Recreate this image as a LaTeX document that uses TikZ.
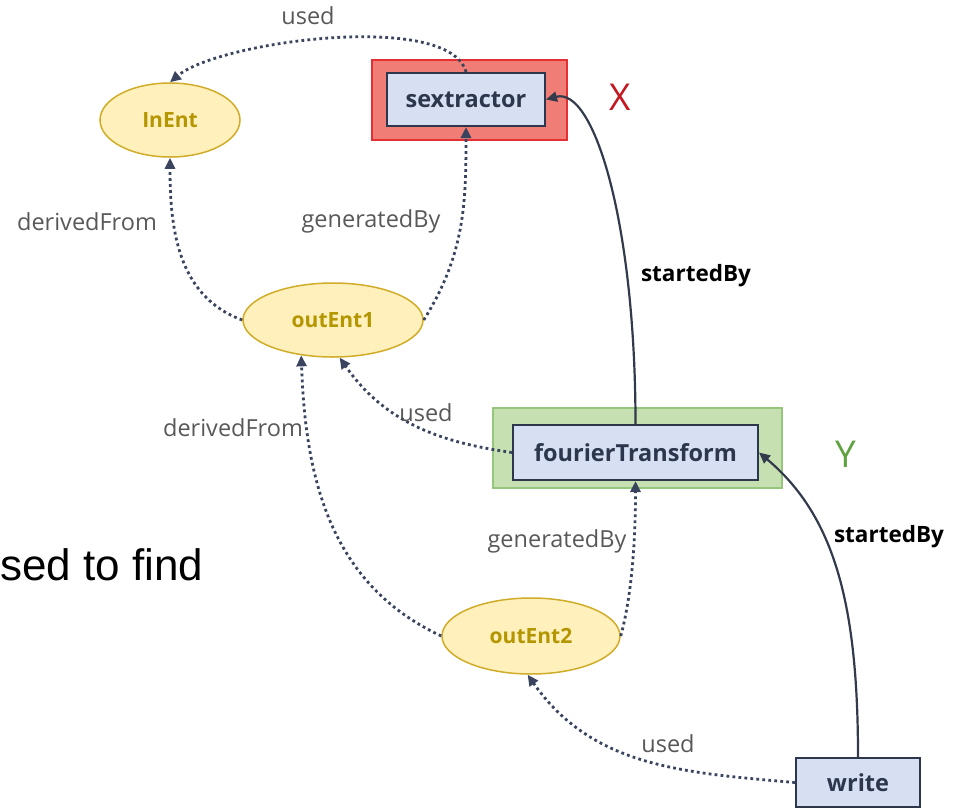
\documentclass[tikz,border=0pt]{standalone}
\usepackage{fontspec}
\setmainfont{Open Sans}
\newfontfamily\slidefont{Liberation Sans}
\usetikzlibrary{shapes.geometric,arrows.meta}

% palette
\definecolor{entfill}{RGB}{255,240,188}
\definecolor{entdraw}{RGB}{208,172,40}
\definecolor{enttext}{RGB}{180,150,0}
\definecolor{actfill}{RGB}{214,224,242}
\definecolor{actdraw}{RGB}{44,54,76}
\definecolor{edgecol}{RGB}{58,68,94}
\definecolor{solidcol}{RGB}{50,58,76}
\definecolor{lblcol}{RGB}{88,88,88}
\definecolor{xfill}{RGB}{240,126,118}
\definecolor{xdraw}{RGB}{228,48,52}
\definecolor{xtext}{RGB}{196,24,32}
\definecolor{yfill}{RGB}{198,224,178}
\definecolor{ydraw}{RGB}{150,198,124}
\definecolor{ytext}{RGB}{96,162,66}

\tikzset{
  ent/.style={ellipse, draw=entdraw, line width=1.5pt, fill=entfill, inner sep=0pt,
    text=enttext, font=\bfseries\fontsize{21}{25}\selectfont},
  act/.style={rectangle, draw=actdraw, line width=2pt, fill=actfill, inner sep=0pt,
    text=actdraw, font=\bfseries\fontsize{23.5}{28}\selectfont},
  grp/.style={rectangle, line width=1.5pt, inner sep=0pt},
  rel/.style={draw=edgecol, line width=2.8pt, dash pattern=on 2.8pt off 3.2pt,
    -{Triangle[length=11pt,width=10pt]}},
  startrel/.style={draw=solidcol, line width=2.2pt,
    -{Triangle[length=11pt,width=10pt]}},
  lbl/.style={text=lblcol, inner sep=0pt, font=\fontsize{23.5}{28}\selectfont},
  boldlbl/.style={text=black, inner sep=0pt, font=\bfseries\fontsize{22.5}{27}\selectfont},
  tag/.style={inner sep=0pt, font=\fontsize{37}{44}\selectfont}
}

\begin{document}
\begin{tikzpicture}[x=1pt,y=1pt]
\useasboundingbox (0,-809) rectangle (961,0);

% group frames
\node[grp, fill=xfill, draw=xdraw, minimum width=195pt, minimum height=80pt] (sxgroup) at (469.5,-100) {};
\node[grp, fill=yfill, draw=ydraw, minimum width=289pt, minimum height=80pt] (ftgroup) at (637.5,-448) {};

% activities
\node[act, minimum width=158pt, minimum height=53pt] (sextractor) at (466,-99.5) {sextractor};
\node[act, minimum width=245pt, minimum height=55pt] (ft) at (635.5,-452.5) {fourierTransform};
\node[act, minimum width=124pt, minimum height=49pt] (write) at (858,-782.5) {write};

% entities
\node[ent, minimum width=140pt, minimum height=74pt] (inEnt) at (170,-120) {InEnt};
\node[ent, minimum width=180pt, minimum height=74pt] (outEnt1) at (333,-320) {outEnt1};
\node[ent, minimum width=178pt, minimum height=76pt] (outEnt2) at (531,-636) {outEnt2};

% group tags
\node[tag, text=xtext] (xtag) at (620,-97) {X};
\node[tag, text=ytext] (ytag) at (846,-454) {Y};

% slide text
\node[anchor=base west, inner sep=0pt, font=\slidefont\fontsize{44}{50}\selectfont] (caption) at (0,-580) {sed to find};

% relations
\draw[rel] (sextractor.north) to[out=105,in=40,looseness=0.55] (inEnt.north);
\draw[rel] (outEnt1.west) to[out=160,in=-90] (inEnt.south);
\draw[rel] (outEnt1.east) to[out=58,in=-90] (sextractor.south);
\draw[startrel] (ft.north) to[out=90,in=15,out distance=200pt,in distance=50pt] (sextractor.east);
\draw[rel] (ft.west) to[out=172,in=-55] (outEnt1.-80);
\draw[rel] (outEnt2.west) to[out=155,in=-88] (outEnt1.-132);
\draw[rel] (outEnt2.east) to[out=75,in=-90,looseness=0.8] (ft.south);
\draw[startrel] (write.north) to[out=90,in=-40,out distance=150pt,in distance=100pt] (ft.east);
\draw[rel] (write.west) to[out=175,in=-55] (outEnt2.-95);

% relation labels
\node[lbl] (lused1) at (308,-16) {used};
\node[lbl] (lderived1) at (87,-222) {derivedFrom};
\node[lbl] (lgen1) at (371,-221) {generatedBy};
\node[boldlbl] (lstart1) at (696,-276) {startedBy};
\node[lbl] (lused2) at (426,-413) {used};
\node[lbl] (lderived2) at (233,-428) {derivedFrom};
\node[lbl] (lgen2) at (557,-541) {generatedBy};
\node[boldlbl] (lstart2) at (889,-537) {startedBy};
\node[lbl] (lused3) at (668,-744) {used};
\end{tikzpicture}
\end{document}
